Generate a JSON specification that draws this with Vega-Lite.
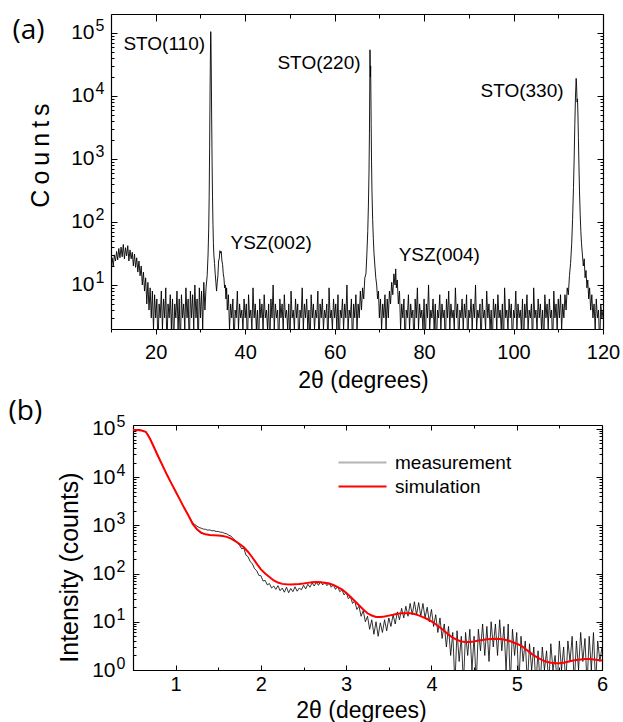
{
"$schema": "https://vega.github.io/schema/vega-lite/v6.json",
"background": "white",
"padding": {"left": 8, "top": 13, "right": 2, "bottom": 0},
"config": {"view": {"stroke": null}, "axis": {"grid": false, "domainColor": "black", "tickColor": "black", "labelColor": "black", "titleColor": "black", "labelFont": "Liberation Sans", "titleFont": "Liberation Sans", "titleFontWeight": "normal", "labelOverlap": false, "labelFlush": false, "domainWidth": 1.2, "tickWidth": 1}},
"resolve": {"scale": {"color": "independent"}, "legend": {"color": "independent"}},
"datasets": {
"xrd": [
{"x":10,"y":18},{"x":10.25,"y":27},{"x":10.5,"y":20},{"x":10.75,"y":30},{"x":11,"y":24},{"x":11.25,"y":34},{"x":11.5,"y":25},{"x":11.75,"y":38},{"x":12,"y":27},{"x":12.25,"y":40},{"x":12.5,"y":28},{"x":12.75,"y":44},{"x":13,"y":26},{"x":13.25,"y":39},{"x":13.5,"y":29},{"x":13.75,"y":42},{"x":14,"y":24},{"x":14.25,"y":36},{"x":14.5,"y":26},{"x":14.75,"y":33},{"x":15,"y":20},{"x":15.25,"y":31},{"x":15.5,"y":19},{"x":15.75,"y":27},{"x":16,"y":16},{"x":16.25,"y":24},{"x":16.5,"y":14},{"x":16.75,"y":20},{"x":17,"y":10},{"x":17.25,"y":16},{"x":17.5,"y":8},{"x":17.75,"y":13},{"x":18,"y":5},{"x":18.25,"y":11},{"x":18.5,"y":4},{"x":18.75,"y":9},{"x":19,"y":3},{"x":19.25,"y":8},{"x":19.5,"y":2},{"x":19.75,"y":7},{"x":20,"y":3},
{"x":20.25,"y":6},{"x":20.5,"y":1},{"x":20.75,"y":5},{"x":21,"y":3},{"x":21.25,"y":8},{"x":21.5,"y":2},{"x":21.75,"y":6},{"x":22,"y":3},{"x":22.25,"y":9},{"x":22.5,"y":1},{"x":22.75,"y":5},{"x":23,"y":3},{"x":23.25,"y":7},{"x":23.5,"y":2},{"x":23.75,"y":6},{"x":24,"y":1},{"x":24.25,"y":5},{"x":24.5,"y":3},{"x":24.75,"y":8},{"x":25,"y":2},{"x":25.25,"y":6},{"x":25.5,"y":1},{"x":25.75,"y":7},{"x":26,"y":3},{"x":26.25,"y":5},{"x":26.5,"y":2},{"x":26.75,"y":9},{"x":27,"y":3},{"x":27.25,"y":6},{"x":27.5,"y":1},{"x":27.75,"y":8},{"x":28,"y":3},{"x":28.25,"y":7},{"x":28.5,"y":2},{"x":28.75,"y":10},{"x":29,"y":3},{"x":29.25,"y":6},{"x":29.5,"y":1},{"x":29.75,"y":9},{"x":30,"y":3},{"x":30.25,"y":8},{"x":30.5,"y":2},{"x":30.75,"y":11},{"x":31,"y":4},{"x":31.25,"y":9},
{"x":31.5,"y":14},{"x":31.7,"y":30},{"x":31.85,"y":80},{"x":31.95,"y":250},{"x":32.05,"y":1500},{"x":32.15,"y":12000},{"x":32.25,"y":70000},{"x":32.3,"y":105000},{"x":32.35,"y":80000},{"x":32.42,"y":25000},{"x":32.5,"y":5000},{"x":32.6,"y":900},{"x":32.7,"y":250},{"x":32.8,"y":90},{"x":32.9,"y":45},{"x":33,"y":30},{"x":33.15,"y":22},{"x":33.3,"y":15},{"x":33.45,"y":11},{"x":33.6,"y":8},{"x":33.75,"y":11},{"x":33.9,"y":14},{"x":34.05,"y":24},{"x":34.2,"y":26},{"x":34.35,"y":35},{"x":34.5,"y":32},{"x":34.65,"y":34},{"x":34.8,"y":24},{"x":34.95,"y":21},{"x":35.1,"y":15},{"x":35.25,"y":13},{"x":35.4,"y":9},{"x":35.55,"y":10},{"x":35.7,"y":6},{"x":35.85,"y":9},{"x":36,"y":4},
{"x":36.25,"y":7},{"x":36.5,"y":2},{"x":36.75,"y":5},{"x":37,"y":3},{"x":37.25,"y":6},{"x":37.5,"y":1},{"x":37.75,"y":4},{"x":38,"y":3},{"x":38.25,"y":8},{"x":38.5,"y":2},{"x":38.75,"y":5},{"x":39,"y":3},{"x":39.25,"y":4},{"x":39.5,"y":2},{"x":39.75,"y":6},{"x":40,"y":3},{"x":40.25,"y":5},{"x":40.5,"y":1},{"x":40.75,"y":7},{"x":41,"y":3},{"x":41.25,"y":4},{"x":41.5,"y":2},{"x":41.75,"y":9},{"x":42,"y":3},{"x":42.25,"y":5},{"x":42.5,"y":2},{"x":42.75,"y":4},{"x":43,"y":1},{"x":43.25,"y":6},{"x":43.5,"y":3},{"x":43.75,"y":5},{"x":44,"y":2},{"x":44.25,"y":7},{"x":44.5,"y":3},{"x":44.75,"y":4},{"x":45,"y":2},{"x":45.25,"y":5},{"x":45.5,"y":1},{"x":45.75,"y":6},{"x":46,"y":3},{"x":46.25,"y":10},{"x":46.5,"y":2},{"x":46.75,"y":5},{"x":47,"y":3},{"x":47.25,"y":4},{"x":47.5,"y":1},{"x":47.75,"y":6},{"x":48,"y":3},{"x":48.25,"y":5},{"x":48.5,"y":2},{"x":48.75,"y":7},{"x":49,"y":3},{"x":49.25,"y":4},{"x":49.5,"y":2},{"x":49.75,"y":5},{"x":50,"y":1},{"x":50.25,"y":8},{"x":50.5,"y":3},{"x":50.75,"y":4},{"x":51,"y":2},{"x":51.25,"y":6},{"x":51.5,"y":3},{"x":51.75,"y":5},{"x":52,"y":1},{"x":52.25,"y":4},{"x":52.5,"y":3},{"x":52.75,"y":9},{"x":53,"y":2},{"x":53.25,"y":5},{"x":53.5,"y":3},{"x":53.75,"y":6},{"x":54,"y":2},{"x":54.25,"y":4},{"x":54.5,"y":1},{"x":54.75,"y":7},{"x":55,"y":3},{"x":55.25,"y":5},{"x":55.5,"y":2},{"x":55.75,"y":4},{"x":56,"y":3},{"x":56.25,"y":8},{"x":56.5,"y":1},{"x":56.75,"y":5},{"x":57,"y":3},{"x":57.25,"y":6},{"x":57.5,"y":2},{"x":57.75,"y":4},{"x":58,"y":3},{"x":58.25,"y":5},{"x":58.5,"y":1},{"x":58.75,"y":9},{"x":59,"y":3},{"x":59.25,"y":4},{"x":59.5,"y":2},{"x":59.75,"y":6},{"x":60,"y":3},{"x":60.25,"y":5},{"x":60.5,"y":2},{"x":60.75,"y":7},{"x":61,"y":1},{"x":61.25,"y":4},{"x":61.5,"y":3},{"x":61.75,"y":6},{"x":62,"y":2},{"x":62.25,"y":5},{"x":62.5,"y":3},{"x":62.75,"y":10},{"x":63,"y":2},{"x":63.25,"y":4},{"x":63.5,"y":3},{"x":63.75,"y":6},{"x":64,"y":1},{"x":64.25,"y":5},{"x":64.5,"y":3},{"x":64.75,"y":7},{"x":65,"y":2},{"x":65.25,"y":5},{"x":65.5,"y":3},{"x":65.75,"y":8},
{"x":66,"y":4},{"x":66.25,"y":9},{"x":66.5,"y":6},{"x":66.75,"y":13},{"x":67,"y":15},{"x":67.2,"y":30},{"x":67.4,"y":70},{"x":67.55,"y":180},{"x":67.68,"y":600},{"x":67.78,"y":2500},{"x":67.85,"y":12000},{"x":67.9,"y":54000},{"x":67.95,"y":32000},{"x":68,"y":20000},{"x":68.05,"y":30000},{"x":68.1,"y":12000},{"x":68.17,"y":3500},{"x":68.25,"y":900},{"x":68.35,"y":300},{"x":68.5,"y":110},{"x":68.65,"y":55},{"x":68.8,"y":32},{"x":69,"y":20},{"x":69.2,"y":13},{"x":69.4,"y":10},{"x":69.6,"y":6},{"x":69.8,"y":8},{"x":70,"y":3},{"x":70.25,"y":6},{"x":70.5,"y":2},{"x":70.75,"y":5},{"x":71,"y":3},{"x":71.25,"y":7},{"x":71.5,"y":2},{"x":71.75,"y":6},{"x":72,"y":3},{"x":72.25,"y":8},{"x":72.5,"y":5},{"x":72.75,"y":11},{"x":73,"y":7},{"x":73.25,"y":15},{"x":73.5,"y":10},{"x":73.65,"y":18},{"x":73.8,"y":9},{"x":74,"y":12},{"x":74.25,"y":5},{"x":74.5,"y":8},{"x":74.75,"y":2},{"x":75,"y":5},
{"x":75.25,"y":3},{"x":75.5,"y":6},{"x":75.75,"y":1},{"x":76,"y":4},{"x":76.25,"y":3},{"x":76.5,"y":7},{"x":76.75,"y":2},{"x":77,"y":5},{"x":77.25,"y":3},{"x":77.5,"y":4},{"x":77.75,"y":1},{"x":78,"y":6},{"x":78.25,"y":3},{"x":78.5,"y":9},{"x":78.75,"y":2},{"x":79,"y":5},{"x":79.25,"y":3},{"x":79.5,"y":4},{"x":79.75,"y":2},{"x":80,"y":6},{"x":80.25,"y":1},{"x":80.5,"y":5},{"x":80.75,"y":3},{"x":81,"y":10},{"x":81.25,"y":2},{"x":81.5,"y":4},{"x":81.75,"y":3},{"x":82,"y":6},{"x":82.25,"y":2},{"x":82.5,"y":5},{"x":82.75,"y":1},{"x":83,"y":4},{"x":83.25,"y":3},{"x":83.5,"y":7},{"x":83.75,"y":2},{"x":84,"y":5},{"x":84.25,"y":3},{"x":84.5,"y":4},{"x":84.75,"y":1},{"x":85,"y":6},{"x":85.25,"y":3},{"x":85.5,"y":8},{"x":85.75,"y":2},{"x":86,"y":5},{"x":86.25,"y":3},{"x":86.5,"y":4},{"x":86.75,"y":2},{"x":87,"y":9},{"x":87.25,"y":3},{"x":87.5,"y":5},{"x":87.75,"y":1},{"x":88,"y":4},{"x":88.25,"y":3},{"x":88.5,"y":6},{"x":88.75,"y":2},{"x":89,"y":5},{"x":89.25,"y":3},{"x":89.5,"y":7},{"x":89.75,"y":1},{"x":90,"y":4},{"x":90.25,"y":3},{"x":90.5,"y":6},{"x":90.75,"y":2},{"x":91,"y":5},{"x":91.25,"y":3},{"x":91.5,"y":10},{"x":91.75,"y":2},{"x":92,"y":4},{"x":92.25,"y":3},{"x":92.5,"y":5},{"x":92.75,"y":1},{"x":93,"y":6},{"x":93.25,"y":3},{"x":93.5,"y":4},{"x":93.75,"y":2},{"x":94,"y":8},{"x":94.25,"y":3},{"x":94.5,"y":5},{"x":94.75,"y":2},{"x":95,"y":4},{"x":95.25,"y":1},{"x":95.5,"y":6},{"x":95.75,"y":3},{"x":96,"y":5},{"x":96.25,"y":2},{"x":96.5,"y":7},{"x":96.75,"y":3},{"x":97,"y":4},{"x":97.25,"y":2},{"x":97.5,"y":5},{"x":97.75,"y":1},{"x":98,"y":9},{"x":98.25,"y":3},{"x":98.5,"y":4},{"x":98.75,"y":2},{"x":99,"y":6},{"x":99.25,"y":3},{"x":99.5,"y":5},{"x":99.75,"y":1},{"x":100,"y":4},{"x":100.25,"y":3},{"x":100.5,"y":8},{"x":100.75,"y":2},{"x":101,"y":5},{"x":101.25,"y":3},{"x":101.5,"y":4},{"x":101.75,"y":2},{"x":102,"y":6},{"x":102.25,"y":1},{"x":102.5,"y":5},{"x":102.75,"y":3},{"x":103,"y":7},{"x":103.25,"y":2},{"x":103.5,"y":4},{"x":103.75,"y":3},{"x":104,"y":5},{"x":104.25,"y":1},{"x":104.5,"y":9},{"x":104.75,"y":3},{"x":105,"y":4},{"x":105.25,"y":2},{"x":105.5,"y":6},{"x":105.75,"y":3},{"x":106,"y":5},{"x":106.25,"y":2},{"x":106.5,"y":4},{"x":106.75,"y":1},{"x":107,"y":7},{"x":107.25,"y":3},{"x":107.5,"y":5},{"x":107.75,"y":2},{"x":108,"y":6},{"x":108.25,"y":3},{"x":108.5,"y":4},{"x":108.75,"y":1},{"x":109,"y":8},{"x":109.25,"y":3},{"x":109.5,"y":5},{"x":109.75,"y":2},{"x":110,"y":6},{"x":110.25,"y":3},{"x":110.5,"y":7},{"x":110.75,"y":2},{"x":111,"y":5},{"x":111.25,"y":3},
{"x":111.5,"y":7},{"x":111.75,"y":4},{"x":112,"y":9},{"x":112.25,"y":7},{"x":112.5,"y":14},{"x":112.75,"y":22},{"x":113,"y":45},{"x":113.2,"y":110},{"x":113.4,"y":350},{"x":113.55,"y":1000},{"x":113.7,"y":3500},{"x":113.85,"y":10000},{"x":114,"y":19000},{"x":114.1,"y":14000},{"x":114.2,"y":8000},{"x":114.3,"y":9000},{"x":114.4,"y":5000},{"x":114.5,"y":2200},{"x":114.62,"y":800},{"x":114.75,"y":300},{"x":114.9,"y":130},{"x":115.05,"y":70},{"x":115.2,"y":45},{"x":115.4,"y":30},{"x":115.6,"y":20},{"x":115.8,"y":26},{"x":116,"y":13},{"x":116.2,"y":17},{"x":116.4,"y":9},{"x":116.6,"y":12},{"x":116.8,"y":6},{"x":117,"y":9},{"x":117.25,"y":4},{"x":117.5,"y":7},{"x":117.75,"y":3},{"x":118,"y":5},{"x":118.25,"y":2},{"x":118.5,"y":6},{"x":118.75,"y":3},{"x":119,"y":4},{"x":119.25,"y":1},{"x":119.5,"y":5},{"x":119.75,"y":3},{"x":120,"y":4}
],
"sto": [
{"x":21.9,"y":67000,"t":"STO(110)"},
{"x":56.5,"y":33000,"t":"STO(220)"},
{"x":101.9,"y":12000,"t":"STO(330)"}
],
"ysz": [
{"x":45.8,"y":46,"t":"YSZ(002)"},
{"x":83.4,"y":30,"t":"YSZ(004)"}
],
"meas": [
{"x":0.5,"y":96000},{"x":0.525,"y":97000},{"x":0.55,"y":96500},{"x":0.575,"y":95000},{"x":0.6,"y":93000},{"x":0.625,"y":90000},{"x":0.65,"y":85000},{"x":0.675,"y":76000},{"x":0.7,"y":62000},{"x":0.725,"y":50000},{"x":0.75,"y":40000},{"x":0.775,"y":32000},{"x":0.8,"y":25500},{"x":0.825,"y":20500},{"x":0.85,"y":16500},{"x":0.875,"y":13500},{"x":0.9,"y":11000},{"x":0.925,"y":9000},{"x":0.95,"y":7400},{"x":0.975,"y":6100},{"x":1,"y":5000},{"x":1.025,"y":4100},{"x":1.05,"y":3400},{"x":1.075,"y":2800},{"x":1.1,"y":2300},{"x":1.125,"y":1900},{"x":1.15,"y":1600},{"x":1.175,"y":1350},{"x":1.2,"y":1130},{"x":1.225,"y":1040},{"x":1.25,"y":960},{"x":1.275,"y":900},{"x":1.3,"y":870},{"x":1.325,"y":835},{"x":1.35,"y":825},{"x":1.375,"y":795},{"x":1.4,"y":800},{"x":1.425,"y":770},{"x":1.45,"y":775},{"x":1.475,"y":745},{"x":1.5,"y":745},{"x":1.525,"y":720},{"x":1.55,"y":715},{"x":1.575,"y":680},{"x":1.6,"y":665},{"x":1.625,"y":620},{"x":1.65,"y":595},{"x":1.675,"y":530},{"x":1.7,"y":485},{"x":1.725,"y":425},{"x":1.75,"y":385},{"x":1.775,"y":325},
{"x":1.8,"y":335},{"x":1.825,"y":240},{"x":1.85,"y":222},{"x":1.875,"y":176},{"x":1.9,"y":160},{"x":1.925,"y":126},{"x":1.95,"y":115},{"x":1.975,"y":92},{"x":2,"y":90},{"x":2.025,"y":70},{"x":2.05,"y":72},{"x":2.075,"y":58},{"x":2.1,"y":62},{"x":2.125,"y":50},{"x":2.15,"y":55},{"x":2.175,"y":47},{"x":2.2,"y":56},{"x":2.225,"y":44},{"x":2.25,"y":50},{"x":2.275,"y":41},{"x":2.3,"y":52},{"x":2.325,"y":40},{"x":2.35,"y":49},{"x":2.375,"y":42},{"x":2.4,"y":53},{"x":2.425,"y":43},{"x":2.45,"y":50},{"x":2.475,"y":46},{"x":2.5,"y":57},{"x":2.525,"y":48},{"x":2.55,"y":60},{"x":2.575,"y":52},{"x":2.6,"y":64},{"x":2.625,"y":55},{"x":2.65,"y":66},{"x":2.675,"y":57},{"x":2.7,"y":68},{"x":2.725,"y":58},{"x":2.75,"y":65},{"x":2.775,"y":56},{"x":2.8,"y":64},{"x":2.825,"y":52},{"x":2.85,"y":58},{"x":2.875,"y":47},{"x":2.9,"y":54},{"x":2.925,"y":42},{"x":2.95,"y":46},{"x":2.975,"y":36},{"x":3,"y":41},{"x":3.025,"y":30},{"x":3.05,"y":33},{"x":3.075,"y":24},{"x":3.1,"y":27},{"x":3.125,"y":18},{"x":3.15,"y":21},{"x":3.175,"y":13},{"x":3.2,"y":17},{"x":3.225,"y":10},{"x":3.25,"y":13},{"x":3.275,"y":7},{"x":3.3,"y":11},{"x":3.325,"y":5.5},{"x":3.35,"y":10},{"x":3.375,"y":5},{"x":3.4,"y":9.5},{"x":3.425,"y":6},{"x":3.45,"y":11},{"x":3.475,"y":6.5},{"x":3.5,"y":12},{"x":3.525,"y":8},{"x":3.55,"y":14},{"x":3.575,"y":9},{"x":3.6,"y":16},{"x":3.625,"y":11},{"x":3.65,"y":19},{"x":3.675,"y":12},{"x":3.7,"y":21},{"x":3.725,"y":13},{"x":3.75,"y":24},{"x":3.775,"y":14},{"x":3.8,"y":26},{"x":3.825,"y":14},{"x":3.85,"y":25},{"x":3.875,"y":13},{"x":3.9,"y":24},{"x":3.925,"y":12},{"x":3.95,"y":20},{"x":3.975,"y":10},{"x":4,"y":18},{"x":4.025,"y":8},{"x":4.05,"y":14},{"x":4.075,"y":6},{"x":4.1,"y":12},{"x":4.125,"y":4.5},{"x":4.15,"y":9},{"x":4.175,"y":3},{"x":4.2,"y":8},{"x":4.225,"y":2},{"x":4.25,"y":6},{"x":4.275,"y":0.5},{"x":4.3,"y":6.5},{"x":4.325,"y":1.5},{"x":4.35,"y":5},{"x":4.375,"y":0.5},{"x":4.4,"y":6},{"x":4.425,"y":2},{"x":4.45,"y":7},{"x":4.475,"y":1},{"x":4.5,"y":5},{"x":4.525,"y":0.5},{"x":4.55,"y":7},{"x":4.575,"y":2.5},{"x":4.6,"y":9},{"x":4.625,"y":2},{"x":4.65,"y":8},{"x":4.675,"y":1.5},{"x":4.7,"y":10},{"x":4.725,"y":3},{"x":4.75,"y":9},{"x":4.775,"y":2},{"x":4.8,"y":11},{"x":4.825,"y":2.5},{"x":4.85,"y":8},{"x":4.875,"y":1},{"x":4.9,"y":9},{"x":4.925,"y":0.5},{"x":4.95,"y":7},{"x":4.975,"y":2},{"x":5,"y":6},{"x":5.025,"y":0.5},{"x":5.05,"y":5},{"x":5.075,"y":1.5},{"x":5.1,"y":4},{"x":5.125,"y":0.5},{"x":5.15,"y":3.5},{"x":5.175,"y":1},{"x":5.2,"y":3},{"x":5.225,"y":0.5},{"x":5.25,"y":2.5},{"x":5.275,"y":0.5},{"x":5.3,"y":3},{"x":5.325,"y":1},{"x":5.35,"y":2.5},{"x":5.375,"y":0.5},{"x":5.4,"y":3.5},{"x":5.425,"y":1},{"x":5.45,"y":2},{"x":5.475,"y":0.5},{"x":5.5,"y":4},{"x":5.525,"y":1},{"x":5.55,"y":3},{"x":5.575,"y":0.5},{"x":5.6,"y":4},{"x":5.625,"y":1.5},{"x":5.65,"y":5},{"x":5.675,"y":0.5},{"x":5.7,"y":4},{"x":5.725,"y":1},{"x":5.75,"y":6},{"x":5.775,"y":1.5},{"x":5.8,"y":4.5},{"x":5.825,"y":0.5},{"x":5.85,"y":5},{"x":5.875,"y":1},{"x":5.9,"y":6},{"x":5.925,"y":0.5},{"x":5.95,"y":4},{"x":5.975,"y":1.5},{"x":6,"y":3}
],
"sim": [
{"x":0.5,"y":95000,"s":"simulation"},{"x":0.55,"y":95000,"s":"simulation"},{"x":0.6,"y":92000,"s":"simulation"},{"x":0.65,"y":87000,"s":"simulation"},{"x":0.7,"y":62000,"s":"simulation"},{"x":0.75,"y":40000,"s":"simulation"},{"x":0.8,"y":25700,"s":"simulation"},{"x":0.85,"y":16800,"s":"simulation"},{"x":0.9,"y":11000,"s":"simulation"},{"x":0.95,"y":7400,"s":"simulation"},{"x":1,"y":5000,"s":"simulation"},{"x":1.05,"y":3400,"s":"simulation"},{"x":1.1,"y":2300,"s":"simulation"},{"x":1.15,"y":1600,"s":"simulation"},{"x":1.2,"y":1070,"s":"simulation"},{"x":1.25,"y":830,"s":"simulation"},{"x":1.3,"y":700,"s":"simulation"},{"x":1.35,"y":650,"s":"simulation"},{"x":1.4,"y":630,"s":"simulation"},{"x":1.45,"y":625,"s":"simulation"},{"x":1.5,"y":615,"s":"simulation"},{"x":1.55,"y":600,"s":"simulation"},{"x":1.6,"y":575,"s":"simulation"},{"x":1.65,"y":530,"s":"simulation"},{"x":1.7,"y":470,"s":"simulation"},{"x":1.75,"y":410,"s":"simulation"},{"x":1.8,"y":350,"s":"simulation"},{"x":1.85,"y":280,"s":"simulation"},{"x":1.9,"y":215,"s":"simulation"},{"x":1.95,"y":160,"s":"simulation"},{"x":2,"y":122,"s":"simulation"},{"x":2.05,"y":100,"s":"simulation"},{"x":2.1,"y":85,"s":"simulation"},{"x":2.15,"y":72,"s":"simulation"},{"x":2.2,"y":65,"s":"simulation"},{"x":2.25,"y":61,"s":"simulation"},{"x":2.3,"y":60,"s":"simulation"},{"x":2.35,"y":59.5,"s":"simulation"},{"x":2.4,"y":60,"s":"simulation"},{"x":2.45,"y":60.5,"s":"simulation"},{"x":2.5,"y":62,"s":"simulation"},{"x":2.55,"y":64,"s":"simulation"},{"x":2.6,"y":66,"s":"simulation"},{"x":2.65,"y":67,"s":"simulation"},{"x":2.7,"y":66,"s":"simulation"},{"x":2.75,"y":64.5,"s":"simulation"},{"x":2.8,"y":62,"s":"simulation"},{"x":2.85,"y":58,"s":"simulation"},{"x":2.9,"y":52,"s":"simulation"},{"x":2.95,"y":47,"s":"simulation"},{"x":3,"y":40,"s":"simulation"},{"x":3.05,"y":33,"s":"simulation"},{"x":3.1,"y":27,"s":"simulation"},{"x":3.15,"y":22,"s":"simulation"},{"x":3.2,"y":18,"s":"simulation"},{"x":3.25,"y":15,"s":"simulation"},{"x":3.3,"y":13.5,"s":"simulation"},{"x":3.35,"y":12.6,"s":"simulation"},{"x":3.4,"y":12.5,"s":"simulation"},{"x":3.45,"y":12.8,"s":"simulation"},{"x":3.5,"y":13.4,"s":"simulation"},{"x":3.55,"y":14,"s":"simulation"},{"x":3.6,"y":14.7,"s":"simulation"},{"x":3.65,"y":15,"s":"simulation"},{"x":3.7,"y":15.1,"s":"simulation"},{"x":3.75,"y":15,"s":"simulation"},{"x":3.8,"y":14.5,"s":"simulation"},{"x":3.85,"y":13.6,"s":"simulation"},{"x":3.9,"y":12.5,"s":"simulation"},{"x":3.95,"y":11.4,"s":"simulation"},{"x":4,"y":10.2,"s":"simulation"},{"x":4.05,"y":8.9,"s":"simulation"},{"x":4.1,"y":7.6,"s":"simulation"},{"x":4.15,"y":6.5,"s":"simulation"},{"x":4.2,"y":5.4,"s":"simulation"},{"x":4.25,"y":4.7,"s":"simulation"},{"x":4.3,"y":4.2,"s":"simulation"},{"x":4.35,"y":3.9,"s":"simulation"},{"x":4.4,"y":3.8,"s":"simulation"},{"x":4.45,"y":3.8,"s":"simulation"},{"x":4.5,"y":3.9,"s":"simulation"},{"x":4.55,"y":4.1,"s":"simulation"},{"x":4.6,"y":4.2,"s":"simulation"},{"x":4.65,"y":4.35,"s":"simulation"},{"x":4.7,"y":4.4,"s":"simulation"},{"x":4.75,"y":4.45,"s":"simulation"},{"x":4.8,"y":4.4,"s":"simulation"},{"x":4.85,"y":4.3,"s":"simulation"},{"x":4.9,"y":4.1,"s":"simulation"},{"x":4.95,"y":3.8,"s":"simulation"},{"x":5,"y":3.5,"s":"simulation"},{"x":5.05,"y":3.2,"s":"simulation"},{"x":5.1,"y":2.75,"s":"simulation"},{"x":5.15,"y":2.35,"s":"simulation"},{"x":5.2,"y":2,"s":"simulation"},{"x":5.25,"y":1.78,"s":"simulation"},{"x":5.3,"y":1.6,"s":"simulation"},{"x":5.35,"y":1.48,"s":"simulation"},{"x":5.4,"y":1.41,"s":"simulation"},{"x":5.45,"y":1.38,"s":"simulation"},{"x":5.5,"y":1.38,"s":"simulation"},{"x":5.55,"y":1.41,"s":"simulation"},{"x":5.6,"y":1.48,"s":"simulation"},{"x":5.65,"y":1.55,"s":"simulation"},{"x":5.7,"y":1.62,"s":"simulation"},{"x":5.75,"y":1.66,"s":"simulation"},{"x":5.8,"y":1.7,"s":"simulation"},{"x":5.85,"y":1.7,"s":"simulation"},{"x":5.9,"y":1.66,"s":"simulation"},{"x":5.95,"y":1.62,"s":"simulation"},{"x":6,"y":1.58,"s":"simulation"}
]
},
"vconcat": [
{
"width": 492, "height": 315,
"layer": [
{
"data": {"name": "xrd"},
"mark": {"type": "line", "color": "black", "strokeWidth": 0.9, "clip": true},
"encoding": {
"x": {"field": "x", "type": "quantitative", "scale": {"domain": [10, 120], "nice": false, "zero": false},
"axis": {"orient": "bottom", "values": [10,20,30,40,50,60,70,80,90,100,110,120], "labelExpr": "datum.value % 20 == 0 ? format(datum.value, 'd') : ''", "tickSize": {"condition": {"test": "datum.value % 20 == 0", "value": 5}, "value": 3}, "labelFontSize": 20, "labelPadding": 8, "title": "2θ (degrees)", "titleFontSize": 23, "titleX": 252, "titleY": 58, "titleBaseline": "alphabetic"}},
"y": {"field": "y", "type": "quantitative", "scale": {"type": "log", "domain": [2, 200000], "nice": false},
"axis": {"orient": "left", "values": [3,4,5,6,7,8,9,10,20,30,40,50,60,70,80,90,100,200,300,400,500,600,700,800,900,1000,2000,3000,4000,5000,6000,7000,8000,9000,10000,20000,30000,40000,50000,60000,70000,80000,90000,100000], "labelExpr": "indexof([1,10,100,1000,10000,100000], datum.value) >= 0 ? '10' : ''", "tickSize": {"condition": {"test": "indexof([1,10,100,1000,10000,100000], datum.value) >= 0", "value": -6}, "value": -3}, "labelFontSize": 21, "labelPadding": 23, "title": "C\u2009o\u2009u\u2009n\u2009t\u2009s", "titleFontSize": 25, "titleX": -63, "titleY": 141, "titleBaseline": "alphabetic"}}
}
},
{
"data": {"name": "sto"},
"mark": {"type": "text", "font": "Liberation Sans", "fontSize": 19, "align": "center", "baseline": "middle", "color": "black"},
"encoding": {
"x": {"field": "x", "type": "quantitative", "scale": {"domain": [10, 120], "nice": false, "zero": false},
"axis": {"orient": "top", "values": [10,20,30,40,50,60,70,80,90,100,110,120], "labels": false, "title": null, "tickSize": {"condition": {"test": "datum.value % 20 == 0", "value": -7}, "value": -4}}},
"y": {"field": "y", "type": "quantitative", "scale": {"type": "log", "domain": [2, 200000], "nice": false},
"axis": {"orient": "right", "values": [3,4,5,6,7,8,9,10,20,30,40,50,60,70,80,90,100,200,300,400,500,600,700,800,900,1000,2000,3000,4000,5000,6000,7000,8000,9000,10000,20000,30000,40000,50000,60000,70000,80000,90000,100000], "labels": false, "title": null, "tickSize": {"condition": {"test": "indexof([1,10,100,1000,10000,100000], datum.value) >= 0", "value": -6}, "value": -3}}},
"text": {"field": "t"}
}
},
{
"data": {"name": "ysz"},
"mark": {"type": "text", "font": "Liberation Sans", "fontSize": 19, "align": "center", "baseline": "middle", "color": "black"},
"encoding": {
"x": {"field": "x", "type": "quantitative", "scale": {"domain": [10, 120], "nice": false, "zero": false}, "axis": null},
"y": {"field": "y", "type": "quantitative", "scale": {"type": "log", "domain": [2, 200000], "nice": false},
"axis": {"orient": "left", "values": [10,100,1000,10000,100000], "labelExpr": "format(log(datum.value) / LN10, '.0f')", "ticks": false, "domain": false, "labelFontSize": 16, "labelPadding": 7, "labelOffset": -7, "title": "(a)", "titleFont": "Open Sans", "titleFontSize": 28, "titleAngle": 0, "titleAlign": "left", "titleBaseline": "alphabetic", "titleX": -99, "titleY": 24}},
"text": {"field": "t"}
}
}
]
},
{
"width": 491, "height": 245,
"layer": [
{
"data": {"name": "meas"},
"mark": {"type": "line", "color": "black", "strokeWidth": 0.8, "clip": true},
"encoding": {
"x": {"field": "x", "type": "quantitative", "scale": {"domain": [0.5, 6], "range": [22, 491], "nice": false, "zero": false},
"axis": {"orient": "bottom", "values": [0.5,1,1.5,2,2.5,3,3.5,4,4.5,5,5.5,6], "labelExpr": "datum.value % 1 == 0 ? format(datum.value, 'd') : ''", "tickSize": {"condition": {"test": "datum.value % 1 == 0", "value": -5}, "value": -3}, "labelFontSize": 20, "labelPadding": 9, "title": "2θ (degrees)", "titleFontSize": 23, "titleX": 250, "titleY": 47, "titleBaseline": "alphabetic"}},
"y": {"field": "y", "type": "quantitative", "scale": {"type": "log", "domain": [1, 120000], "nice": false},
"axis": {"orient": "left", "offset": -22, "values": [1,2,3,4,5,6,7,8,9,10,20,30,40,50,60,70,80,90,100,200,300,400,500,600,700,800,900,1000,2000,3000,4000,5000,6000,7000,8000,9000,10000,20000,30000,40000,50000,60000,70000,80000,90000,100000], "labelExpr": "indexof([1,10,100,1000,10000,100000], datum.value) >= 0 ? '10' : ''", "tickSize": {"condition": {"test": "indexof([1,10,100,1000,10000,100000], datum.value) >= 0", "value": -6}, "value": -3}, "labelFontSize": 21, "labelPadding": 24, "title": "Intensity (counts)", "titleFontSize": 25, "titleX": -56, "titleY": 142, "titleBaseline": "alphabetic"}}
}
},
{
"data": {"name": "sim"},
"transform": [{"filter": "datum.x <= 3"}],
"mark": {"type": "line", "strokeWidth": 2, "clip": true},
"encoding": {
"x": {"field": "x", "type": "quantitative", "scale": {"domain": [0.5, 6], "range": [22, 491], "nice": false, "zero": false},
"axis": {"orient": "top", "values": [0.5,1,1.5,2,2.5,3,3.5,4,4.5,5,5.5,6], "labels": false, "title": null, "tickSize": {"condition": {"test": "datum.value % 1 == 0", "value": -5}, "value": -3}}},
"y": {"field": "y", "type": "quantitative", "scale": {"type": "log", "domain": [1, 120000], "nice": false},
"axis": {"orient": "right", "values": [1,2,3,4,5,6,7,8,9,10,20,30,40,50,60,70,80,90,100,200,300,400,500,600,700,800,900,1000,2000,3000,4000,5000,6000,7000,8000,9000,10000,20000,30000,40000,50000,60000,70000,80000,90000,100000], "labels": false, "title": null, "tickSize": {"condition": {"test": "indexof([1,10,100,1000,10000,100000], datum.value) >= 0", "value": -6}, "value": -3}}},
"color": {"field": "s", "type": "nominal", "scale": {"domain": ["measurement", "simulation"], "range": ["#b4b4b4", "#ff0000"]},
"legend": {"orient": "none", "legendX": 242, "legendY": 28, "title": null, "symbolType": "M-3.2,0H3.2", "symbolSize": 225, "symbolStrokeWidth": 2, "labelFont": "Liberation Sans", "labelFontSize": 19, "labelColor": "black", "labelOffset": 23, "rowPadding": 4, "padding": 0}}
}
},
{
"data": {"name": "sim"},
"transform": [{"filter": "datum.x >= 3"}],
"mark": {"type": "line", "color": "#ff0000", "strokeWidth": 2, "clip": true},
"encoding": {
"x": {"field": "x", "type": "quantitative", "scale": {"domain": [0.5, 6], "range": [22, 491], "nice": false, "zero": false}, "axis": null},
"y": {"field": "y", "type": "quantitative", "scale": {"type": "log", "domain": [1, 120000], "nice": false},
"axis": {"orient": "left", "offset": -22, "values": [1,10,100,1000,10000,100000], "labelExpr": "format(log(datum.value) / LN10, '.0f')", "ticks": false, "domain": false, "labelFontSize": 16, "labelPadding": 8, "labelOffset": -7, "title": "(b)", "titleFont": "Open Sans", "titleFontSize": 28, "titleAngle": 0, "titleAlign": "left", "titleBaseline": "alphabetic", "titleX": -125, "titleY": -6}}
}
}
]
}
],
"spacing": 5
}
